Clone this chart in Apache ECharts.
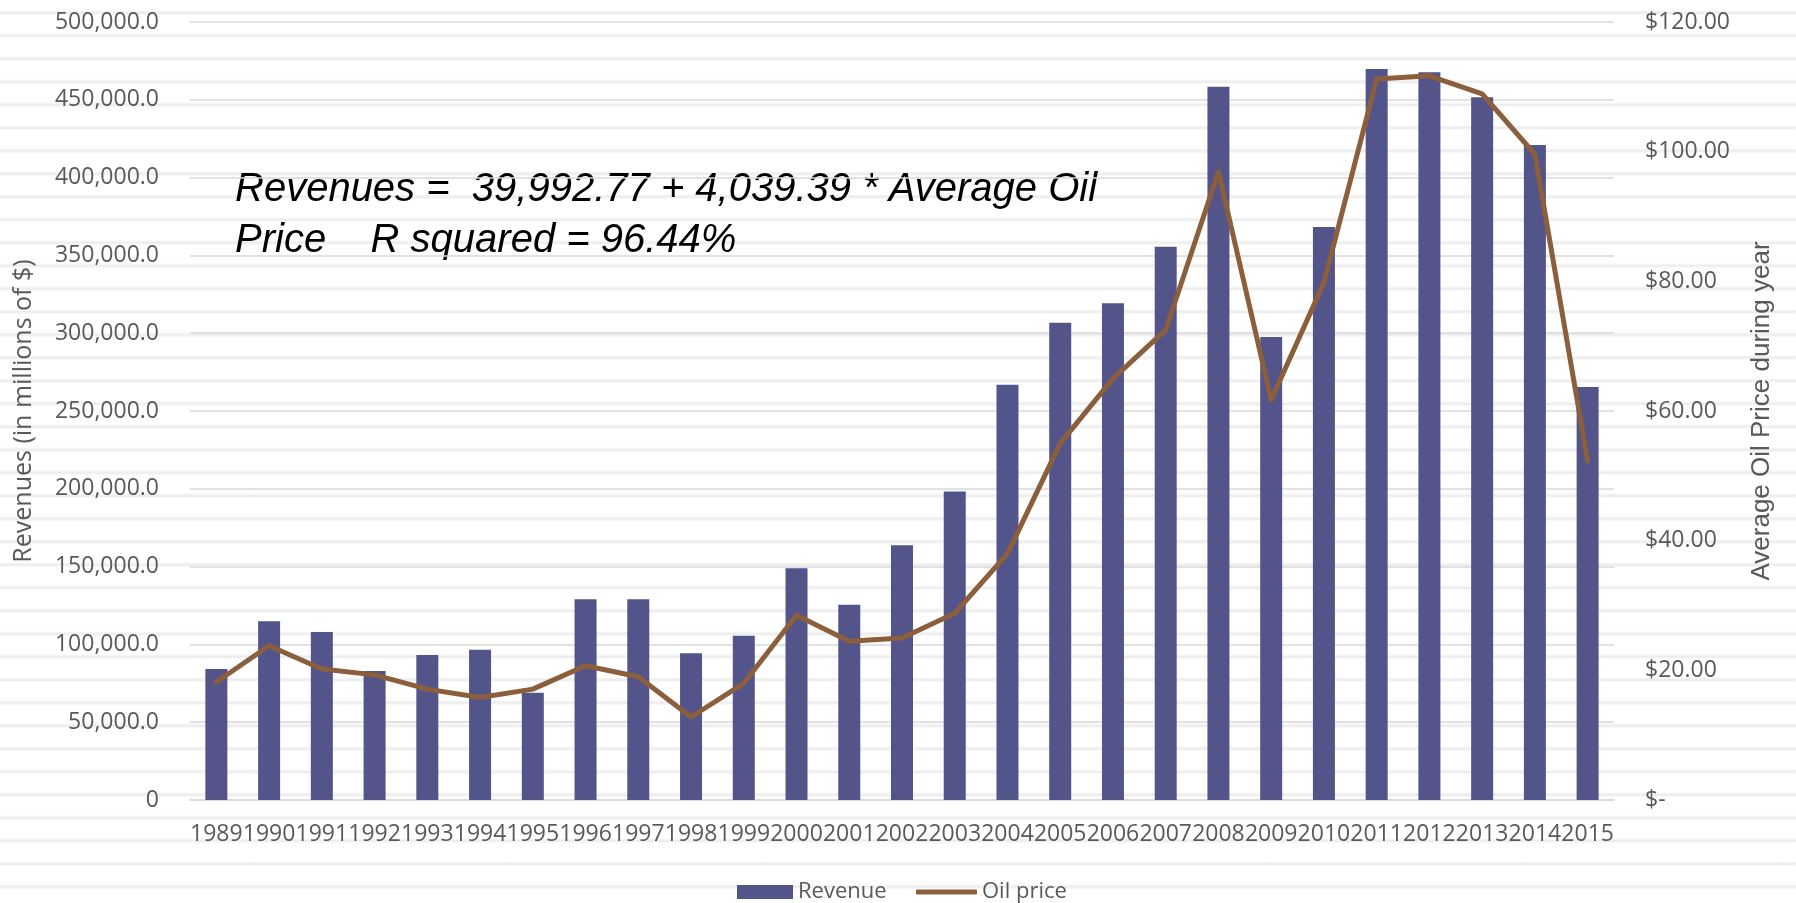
<!DOCTYPE html>
<html>
<head>
<meta charset="utf-8">
<script src="https://cdn.jsdelivr.net/npm/echarts@6/dist/echarts.min.js"></script>
<style>
  html, body { margin: 0; padding: 0; background: #ffffff; }
  #chart {
    width: 1796px; height: 903px;
    background-image: repeating-linear-gradient(to bottom,
      #ffffff 0px, #ffffff 10px, #ededed 12.5px, #ededed 13px, #ffffff 15.5px, #ffffff 23px);
  }
</style>
</head>
<body>
<div id="chart"></div>
<script>
const years = ['1989','1990','1991','1992','1993','1994','1995','1996','1997','1998','1999','2000','2001','2002','2003','2004','2005','2006','2007','2008','2009','2010','2011','2012','2013','2014','2015'];
const revenue = [84200, 114800, 108000, 82900, 93200, 96500, 69000, 129000, 129000, 94300, 105600, 149000, 125500, 163700, 198300, 266800, 306700, 319200, 355600, 458400, 297500, 368300, 469800, 467700, 451600, 421000, 265400];
const oilPrice = [18.2, 23.8, 20.2, 19.3, 17.1, 15.8, 17.1, 20.7, 19.0, 12.8, 18.0, 28.5, 24.5, 25.0, 28.8, 38.0, 55.0, 65.0, 72.5, 96.9, 61.7, 79.8, 111.2, 111.7, 108.9, 99.6, 52.3];
const leftTicks = { min: 0, max: 500000, interval: 50000 };
const rightTicks = { min: 0, max: 120, interval: 20 };
const annotation = 'Revenues =  39,992.77 + 4,039.39 * Average Oil\nPrice    R squared = 96.44%';

const chart = echarts.init(document.getElementById('chart'), null, { renderer: 'canvas' });
const labelColor = '#595959';
const sans = '"Open Sans", sans-serif';
const legendText = { fontFamily: sans, fontSize: 22, color: labelColor };

chart.setOption({
  backgroundColor: 'transparent',
  animation: false,
  grid: { left: 190, right: 182, top: 22, bottom: 103, containLabel: false },
  legend: [
    {
      left: 732, top: 876,
      itemWidth: 56, itemHeight: 14,
      textStyle: legendText,
      data: [{ name: 'Revenue', icon: 'rect' }]
    },
    {
      left: 911, top: 876,
      itemWidth: 61, itemHeight: 5,
      textStyle: legendText,
      data: [{ name: 'Oil price', icon: 'roundRect' }]
    }
  ],
  xAxis: {
    type: 'category',
    data: years,
    axisLine: { show: true, lineStyle: { color: '#d9d9d9', width: 1.5 } },
    axisTick: { show: false },
    axisLabel: { interval: 0, margin: 23, fontFamily: sans, fontSize: 23, color: labelColor }
  },
  yAxis: [
    {
      type: 'value', position: 'left',
      min: leftTicks.min, max: leftTicks.max, interval: leftTicks.interval,
      name: 'Revenues (in millions of $)', nameLocation: 'middle', nameGap: 154, nameRotate: 90,
      nameTextStyle: { fontFamily: sans, fontSize: 25, color: labelColor },
      axisLine: { show: false }, axisTick: { show: false },
      splitLine: { show: true, lineStyle: { color: '#d9d9d9', width: 1.5 } },
      axisLabel: {
        margin: 31, fontFamily: sans, fontSize: 23, color: labelColor,
        formatter: v => v === 0 ? '0' : v.toLocaleString('en-US', { minimumFractionDigits: 1, maximumFractionDigits: 1 })
      }
    },
    {
      type: 'value', position: 'right',
      min: rightTicks.min, max: rightTicks.max, interval: rightTicks.interval,
      name: 'Average Oil Price during year', nameLocation: 'middle', nameGap: 135, nameRotate: 90,
      nameTextStyle: { fontFamily: '"Liberation Sans", Arial, sans-serif', fontSize: 26, color: labelColor },
      axisLine: { show: false }, axisTick: { show: false },
      splitLine: { show: false },
      axisLabel: {
        margin: 31, align: 'left', fontFamily: sans, fontSize: 23, color: labelColor,
        formatter: v => v === 0 ? '$-' : '$' + v.toFixed(2)
      }
    }
  ],
  series: [
    {
      name: 'Revenue', type: 'bar', yAxisIndex: 0,
      data: revenue, barWidth: 22,
      itemStyle: { color: '#53548a' }
    },
    {
      name: 'Oil price', type: 'line', yAxisIndex: 1,
      data: oilPrice, symbol: 'none',
      lineStyle: { color: '#8b5e3c', width: 5, join: 'round', cap: 'round' },
      itemStyle: { color: '#8b5e3c' }
    }
  ],
  graphic: [
    {
      type: 'text', left: 235, top: 164, silent: true,
      style: {
        text: annotation,
        font: 'italic 40px "Liberation Sans", Arial, sans-serif',
        lineHeight: 51,
        fill: '#000000'
      }
    }
  ]
});
</script>
</body>
</html>
